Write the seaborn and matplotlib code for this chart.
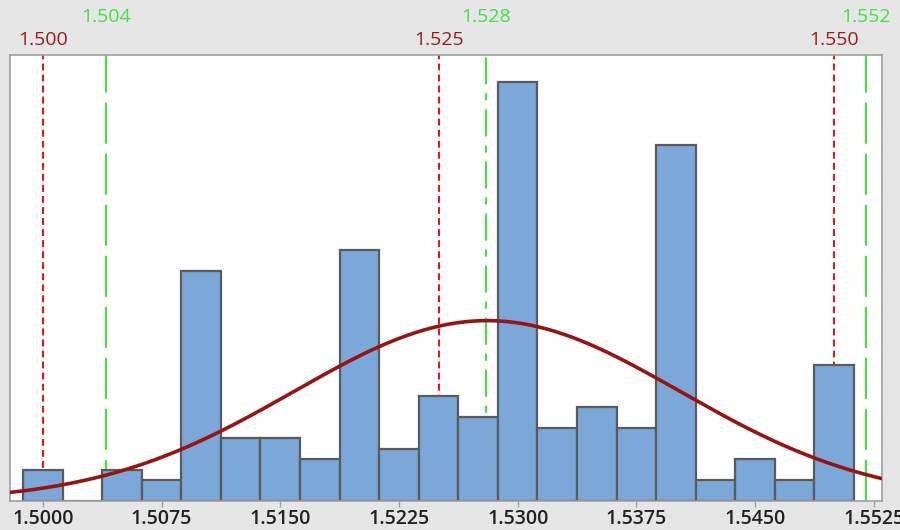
#!/usr/bin/env python3

import numpy as np
import pandas as pd
from matplotlib import pyplot as plt
from matplotlib import transforms
import seaborn as sns


# histogram: bin centres and counts
bin_centers = [1.5000, 1.5025, 1.5050, 1.5075, 1.5100, 1.5125, 1.5150, 1.5175,
               1.5200, 1.5225, 1.5250, 1.5275, 1.5300, 1.5325, 1.5350, 1.5375,
               1.5400, 1.5425, 1.5450, 1.5475, 1.5500]
counts = [3, 0, 3, 2, 22, 6, 6, 4, 24, 5, 10, 8, 40, 7, 9, 7, 34, 2, 4, 2, 13]
bin_width = 0.0025

# reference lines
spec_values = [1.500, 1.525, 1.550]
spec_labels = ["1.500", "1.525", "1.550"]
target_values = [1.504, 1.528, 1.552]
target_labels = ["1.504", "1.528", "1.552"]

x_ticks = [1.5000, 1.5075, 1.5150, 1.5225, 1.5300, 1.5375, 1.5450, 1.5525]
x_tick_labels = ["1.5000", "1.5075", "1.5150", "1.5225", "1.5300", "1.5375", "1.5450", "1.5525"]

bar_color = "#7ba7d9"
bar_edge = "#5b5b5b"
curve_color = "#981414"
spec_line_color = "#e3161e"
spec_text_color = "#9b1b1b"
target_color = "#44e044"
bg_color = "#e6e6e6"


def main():
    sns.set_theme(style="white")
    plt.rcParams["font.family"] = ["Open Sans", "DejaVu Sans"]

    df = pd.DataFrame({"value": bin_centers, "count": counts})

    fig = plt.figure(figsize=(9, 5.3), dpi=100, facecolor=bg_color)
    ax = fig.add_axes([0.0106, 0.0547, 0.9691, 0.8415])
    ax.set_facecolor("white")

    xmin, xmax = 1.4979, 1.5530
    lo = bin_centers[0] - bin_width / 2
    hi = bin_centers[-1] + bin_width / 2

    # vertical reference lines (behind bars)
    for v in spec_values:
        ax.axvline(v, color=spec_line_color, lw=1.5, dashes=(3.3, 2.0), zorder=1)
    target_dashes = [(19.7, 4.8), (13, 4.3, 3.4, 4.3), (19.7, 4.8)]
    for v, d in zip(target_values, target_dashes):
        ax.axvline(v, color=target_color, lw=1.5, dashes=d, zorder=1)

    sns.histplot(
        data=df, x="value", weights="count",
        binwidth=bin_width, binrange=(lo, hi),
        color=bar_color, edgecolor=bar_edge, linewidth=1.6, alpha=1.0,
        ax=ax, zorder=2,
    )

    # fitted normal curve from the binned data
    vals = np.array(bin_centers)
    cnt = np.array(counts)
    n = cnt.sum()
    mu = (vals * cnt).sum() / n
    sd = np.sqrt((cnt * (vals - mu) ** 2).sum() / n)
    xs = np.linspace(xmin, xmax, 300)
    ys = n * bin_width * np.exp(-0.5 * ((xs - mu) / sd) ** 2) / (sd * np.sqrt(2 * np.pi))
    sns.lineplot(x=xs, y=ys, color=curve_color, lw=2.6, ax=ax, zorder=3)

    ax.set_xlim(xmin, xmax)
    ax.set_ylim(0, 42.6)
    ax.set_xticks(x_ticks)
    ax.set_xticklabels(x_tick_labels, fontsize=14, fontweight="semibold", color="#222222")
    ax.set_yticks([])
    ax.set_xlabel("")
    ax.set_ylabel("")
    ax.tick_params(axis="x", direction="out", length=4, width=1, color="#a0a0a0",
                   pad=2, bottom=True)
    for s in ax.spines.values():
        s.set_color("#a0a0a0")
        s.set_linewidth(1.2)

    trans = transforms.blended_transform_factory(ax.transData, fig.transFigure)
    for v, lab in zip(spec_values, spec_labels):
        ax.text(v, 0.9245, lab, transform=trans, ha="center", va="center",
                fontsize=14, color=spec_text_color, clip_on=False)
    for v, lab in zip(target_values, target_labels):
        ax.text(v, 0.967, lab, transform=trans, ha="center", va="center",
                fontsize=14, color=target_color, clip_on=False)

    fig.savefig("out.png", dpi=100, facecolor=bg_color)


if __name__ == "__main__":
    main()
